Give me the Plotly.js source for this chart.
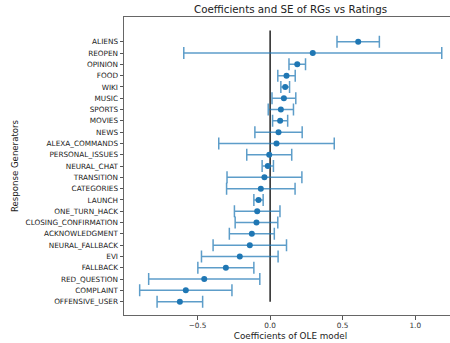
<!DOCTYPE html>
<html>
<head>
<meta charset="utf-8">
<script src="https://cdn.plot.ly/plotly-3.0.1.min.js"></script>
<style>
html,body{margin:0;padding:0;overflow:hidden;background:#fff;}
#chart{width:457px;height:343px;}
</style>
</head>
<body>
<div id="chart"></div>
<script>
// Categories listed top to bottom as in the chart
const categories = ["ALIENS","REOPEN","OPINION","FOOD","WIKI","MUSIC","SPORTS","MOVIES","NEWS",
  "ALEXA_COMMANDS","PERSONAL_ISSUES","NEURAL_CHAT","TRANSITION","CATEGORIES","LAUNCH",
  "ONE_TURN_HACK","CLOSING_CONFIRMATION","ACKNOWLEDGMENT","NEURAL_FALLBACK","EVI",
  "FALLBACK","RED_QUESTION","COMPLAINT","OFFENSIVE_USER"];
const coefficients = [0.607,0.294,0.187,0.113,0.104,0.095,0.074,0.069,0.058,
  0.044,-0.006,-0.016,-0.039,-0.064,-0.080,
  -0.089,-0.094,-0.126,-0.140,-0.209,
  -0.305,-0.454,-0.581,-0.622];
const standardErrors = [0.146,0.889,0.057,0.060,0.030,0.082,0.087,0.052,0.163,
  0.398,0.155,0.039,0.258,0.236,0.032,
  0.157,0.147,0.155,0.253,0.264,
  0.193,0.383,0.318,0.157];
const xTickVals = [-0.5,0.0,0.5,1.0];
const xTickText = ["\u22120.5","0.0","0.5","1.0"];

const n = categories.length;
const yPos = categories.map((c,i)=> n-1-i);

const trace = {
  type:'scatter', mode:'markers',
  x: coefficients, y: yPos,
  marker:{color:'#1f77b4', size:6},
  error_x:{type:'data', array: standardErrors, visible:true,
           color:'rgba(31,119,180,0.72)', thickness:1.5, width:6},
  hoverinfo:'x+text', text: categories
};
const zeroLine = {
  type:'scatter', mode:'lines',
  x:[0,0], y:[0,n],
  line:{color:'#000', width:1.3},
  hoverinfo:'skip'
};

const layout = {
  width:457, height:343,
  margin:{l:123.5, r:0, t:17, b:28, pad:0},
  paper_bgcolor:'#fff', plot_bgcolor:'#fff',
  showlegend:false,
  font:{family:'DejaVu Sans', color:'#222'},
  title:{text:'Coefficients and SE of RGs vs Ratings', xref:'paper', x:0.5, xanchor:'center',
         yref:'container', y:0.972, yanchor:'middle', font:{size:10.3, color:'#222'}},
  xaxis:{range:[-1.007,1.288], showgrid:false, zeroline:false,
         tickvals:xTickVals, ticktext:xTickText, ticks:'outside', ticklen:3.5, tickcolor:'#555',
         tickfont:{size:7.3, color:'#333'},
         showline:true, linecolor:'#666', linewidth:1, mirror:true,
         title:{text:'Coefficients of OLE model', font:{size:8.8, color:'#222'}, standoff:3}},
  yaxis:{range:[-1.18,25.19], showgrid:false, zeroline:false,
         tickvals:yPos, ticktext:categories, ticks:'outside', ticklen:3.5, tickcolor:'#555',
         tickfont:{size:7.3, color:'#222'},
         showline:true, linecolor:'#666', linewidth:1, mirror:true,
         title:{text:'Response Generators', font:{size:8.6, color:'#222'}, standoff:5}}
};
Plotly.newPlot('chart',[zeroLine, trace],layout,{displayModeBar:false, staticPlot:true});
</script>
</body>
</html>
